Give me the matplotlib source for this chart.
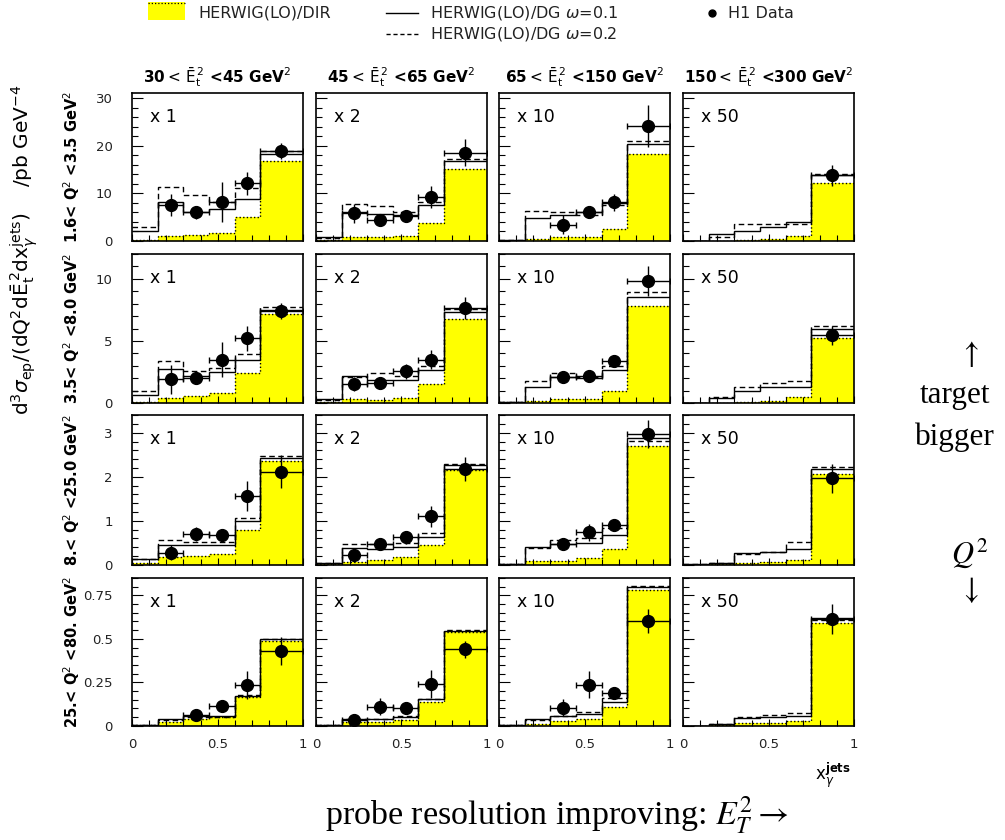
import numpy as np
import matplotlib
matplotlib.use("Agg")
import matplotlib.pyplot as plt
from matplotlib.lines import Line2D
from matplotlib.patches import Rectangle
from matplotlib.ticker import MultipleLocator

nan = np.nan
edges = [0.0, 0.15, 0.3, 0.45, 0.6, 0.75, 1.0]
xcent = [0.075, 0.225, 0.375, 0.525, 0.675, 0.875]
xhalf = [0.075, 0.075, 0.075, 0.075, 0.075, 0.125]

col_titles = [r"30$<\,\bar{\mathrm{E}}_{\mathrm{t}}^{\,2}$ <45 GeV$^{2}$",
              r"45$<\,\bar{\mathrm{E}}_{\mathrm{t}}^{\,2}$ <65 GeV$^{2}$",
              r"65$<\,\bar{\mathrm{E}}_{\mathrm{t}}^{\,2}$ <150 GeV$^{2}$",
              r"150$<\,\bar{\mathrm{E}}_{\mathrm{t}}^{\,2}$ <300 GeV$^{2}$"]
row_labels = [r"1.6< Q$^{2}$ <3.5 GeV$^{2}$",
              r"3.5< Q$^{2}$ <8.0 GeV$^{2}$",
              r"8.< Q$^{2}$ <25.0 GeV$^{2}$",
              r"25.< Q$^{2}$ <80. GeV$^{2}$"]
scale_labels = ["x 1", "x 2", "x 10", "x 50"]

ylims = [31.2, 12.0, 3.4, 0.85]
ymajor = [10, 5, 1, 0.25]
yminor = [2, 1, 0.2, 0.05]
ytick_labels = [["0", "10", "20", "30"], ["0", "5", "10"],
                ["0", "1", "2", "3"], ["0", "0.25", "0.5", "0.75"]]

# ---- Row 1: 1.6 < Q2 < 3.5 ----
dir_r1 = [[0.2, 1.05, 1.3, 1.6, 5.1, 16.8],
          [0.15, 0.8, 0.9, 1.0, 3.7, 15.1],
          [0.1, 0.5, 0.8, 0.9, 2.45, 18.2],
          [0.0, 0.05, 0.2, 0.35, 1.1, 12.3]]
dg1_r1 = [[2.2, 8.1, 6.0, 6.7, 8.8, 18.2],
          [0.9, 6.0, 5.6, 5.5, 7.6, 16.8],
          [0.2, 4.8, 5.5, 6.1, 8.0, 20.5],
          [0.07, 1.5, 2.2, 2.9, 4.1, 13.9]]
dg2_r1 = [[2.9, 11.4, 9.6, 8.3, 11.1, 18.9],
          [0.55, 7.7, 7.4, 6.0, 8.3, 17.2],
          [0.15, 6.4, 6.1, 5.5, 7.6, 21.1],
          [0.07, 0.9, 3.5, 3.6, 3.6, 14.2]]
dat_r1 = [[nan, 7.6, 6.0, 8.3, 12.1, 18.85],
          [nan, 5.8, 4.4, 5.3, 9.2, 18.6],
          [nan, nan, 3.4, 6.0, 8.1, 24.2],
          [nan, nan, nan, nan, nan, 13.8]]
err_r1 = [[nan, 2.3, 1.3, 4.2, 2.4, 1.7],
          [nan, 2.0, 1.0, 1.0, 2.3, 2.8],
          [nan, nan, 2.0, 1.0, 1.7, 4.4],
          [nan, nan, nan, nan, nan, 2.2]]

# ---- Row 2: 3.5 < Q2 < 8.0 ----
dir_r2 = [[0.1, 0.43, 0.54, 0.78, 2.45, 7.2],
          [0.05, 0.3, 0.27, 0.4, 1.5, 6.75],
          [0.05, 0.2, 0.3, 0.3, 0.95, 7.8],
          [0.0, 0.03, 0.1, 0.15, 0.45, 5.2]]
dg1_r2 = [[0.65, 2.7, 2.2, 2.5, 3.5, 7.5],
          [0.3, 2.2, 1.85, 1.85, 2.65, 7.3],
          [0.05, 1.3, 2.1, 2.0, 2.65, 8.5],
          [0.03, 0.4, 1.0, 1.3, 1.3, 6.0]]
dg2_r2 = [[0.95, 3.35, 2.6, 2.8, 3.95, 7.75],
          [0.27, 2.1, 2.45, 2.2, 3.0, 7.6],
          [0.05, 1.8, 2.4, 2.1, 3.0, 8.9],
          [0.03, 0.5, 1.3, 1.6, 1.8, 6.2]]
dat_r2 = [[nan, 1.9, 2.0, 3.5, 5.2, 7.4],
          [nan, 1.55, 1.65, 2.55, 3.5, 7.65],
          [nan, nan, 2.1, 2.2, 3.4, 9.8],
          [nan, nan, nan, nan, nan, 5.45]]
err_r2 = [[nan, 1.2, 0.35, 1.4, 1.0, 0.65],
          [nan, 0.55, 0.3, 0.6, 0.75, 0.9],
          [nan, nan, 0.25, 0.3, 0.5, 1.2],
          [nan, nan, nan, nan, nan, 0.75]]

# ---- Row 3: 8 < Q2 < 25 ----
dir_r3 = [[0.03, 0.18, 0.2, 0.24, 0.79, 2.35],
          [0.02, 0.07, 0.1, 0.17, 0.44, 2.16],
          [0.01, 0.08, 0.09, 0.16, 0.35, 2.7],
          [0.0, 0.005, 0.03, 0.06, 0.11, 2.07]]
dg1_r3 = [[0.12, 0.45, 0.45, 0.45, 1.0, 2.43],
          [0.05, 0.37, 0.35, 0.4, 0.64, 2.28],
          [0.02, 0.41, 0.46, 0.49, 0.68, 2.89],
          [0.01, 0.05, 0.26, 0.29, 0.35, 2.18]]
dg2_r3 = [[0.14, 0.56, 0.51, 0.52, 1.06, 2.47],
          [0.05, 0.46, 0.47, 0.5, 0.73, 2.29],
          [0.02, 0.37, 0.56, 0.6, 0.83, 2.81],
          [0.01, 0.04, 0.24, 0.3, 0.51, 2.22]]
dat_r3 = [[nan, 0.27, 0.7, 0.67, 1.57, 2.12],
          [nan, 0.21, 0.46, 0.62, 1.1, 2.18],
          [nan, nan, 0.47, 0.74, 0.91, 2.98],
          [nan, nan, nan, nan, nan, 1.97]]
err_r3 = [[nan, 0.17, 0.15, 0.15, 0.34, 0.38],
          [nan, 0.15, 0.06, 0.15, 0.24, 0.28],
          [nan, nan, 0.06, 0.19, 0.11, 0.32],
          [nan, nan, nan, nan, nan, 0.33]]

# ---- Row 4: 25 < Q2 < 80 ----
dir_r4 = [[0.004, 0.023, 0.038, 0.052, 0.163, 0.49],
          [0.003, 0.019, 0.023, 0.033, 0.138, 0.54],
          [0.002, 0.01, 0.029, 0.036, 0.109, 0.78],
          [0.0, 0.004, 0.017, 0.017, 0.029, 0.59]]
dg1_r4 = [[0.004, 0.036, 0.057, 0.055, 0.17, 0.497],
          [0.003, 0.036, 0.038, 0.052, 0.151, 0.545],
          [0.002, 0.04, 0.057, 0.065, 0.134, 0.798],
          [0.001, 0.01, 0.046, 0.052, 0.055, 0.62]]
dg2_r4 = [[0.006, 0.033, 0.05, 0.052, 0.174, 0.5],
          [0.003, 0.04, 0.04, 0.055, 0.155, 0.55],
          [0.002, 0.034, 0.055, 0.08, 0.159, 0.805],
          [0.001, 0.01, 0.05, 0.059, 0.071, 0.61]]
dat_r4 = [[nan, nan, 0.061, 0.111, 0.233, 0.43],
          [nan, 0.033, 0.109, 0.103, 0.239, 0.44],
          [nan, nan, 0.103, 0.237, 0.191, 0.603],
          [nan, nan, nan, nan, nan, 0.614]]
err_r4 = [[nan, nan, 0.03, 0.015, 0.08, 0.083],
          [nan, 0.015, 0.05, 0.02, 0.08, 0.05],
          [nan, nan, 0.048, 0.08, 0.03, 0.068],
          [nan, nan, nan, nan, nan, 0.088]]

DIRS = [dir_r1, dir_r2, dir_r3, dir_r4]
DG1S = [dg1_r1, dg1_r2, dg1_r3, dg1_r4]
DG2S = [dg2_r1, dg2_r2, dg2_r3, dg2_r4]
DATS = [dat_r1, dat_r2, dat_r3, dat_r4]
ERRS = [err_r1, err_r2, err_r3, err_r4]

# ------------------------------------------------------------------
W, H = 1005, 840
fig = plt.figure(figsize=(W / 100, H / 100), dpi=100)
SANS = "DejaVu Sans"
TXT = "#222222"

col_left = [132.3, 316.0, 499.3, 683.3]
col_w = 170.5
row_top = [92.7, 254.0, 415.3, 578.0]
row_bot = [241.0, 403.0, 564.7, 725.7]

axes = [[None] * 4 for _ in range(4)]
for r in range(4):
    for c in range(4):
        l = col_left[c] / W
        b = 1 - row_bot[r] / H
        h = (row_bot[r] - row_top[r]) / H
        ax = fig.add_axes([l, b, col_w / W, h])
        axes[r][c] = ax
        d = DIRS[r][c]
        ax.stairs(d, edges, fill=True, color="#ffff00", lw=0, zorder=1)
        ax.stairs(d, edges, baseline=None, color="k", ls=(0, (1, 1.6)), lw=1.0, zorder=2)
        ax.stairs(DG1S[r][c], edges, baseline=None, color="k", lw=1.0, zorder=3)
        ax.stairs(DG2S[r][c], edges, baseline=None, color="k", lw=1.0,
                  ls=(0, (4, 2.5)), zorder=3)
        y = np.array(DATS[r][c], dtype=float)
        e = np.array(ERRS[r][c], dtype=float)
        m = ~np.isnan(y)
        xc = np.array(xcent)[m]
        xh = np.array(xhalf)[m]
        ax.errorbar(xc, y[m], xerr=xh, fmt="none", ecolor="k", elinewidth=1.0,
                    capsize=2.5, capthick=1.0, zorder=4)
        ax.errorbar(xc, y[m], yerr=e[m], fmt="o", color="k", ms=8.5,
                    elinewidth=1.0, capsize=0, zorder=5)
        ax.set_xlim(0, 1)
        ax.set_ylim(0, ylims[r])
        ax.xaxis.set_major_locator(MultipleLocator(0.5))
        ax.xaxis.set_minor_locator(MultipleLocator(0.1))
        ax.yaxis.set_major_locator(MultipleLocator(ymajor[r]))
        ax.yaxis.set_minor_locator(MultipleLocator(yminor[r]))
        ax.tick_params(which="both", direction="in", top=False, right=False,
                       width=0.8, colors="k", labelcolor=TXT, labelsize=9.5)
        ax.tick_params(axis="y", which="major", length=8)
        ax.tick_params(axis="y", which="minor", length=4)
        ax.tick_params(axis="x", which="major", length=5)
        ax.tick_params(axis="x", which="minor", length=4)
        for s in ax.spines.values():
            s.set_linewidth(1.2)
        if c == 0:
            ax.set_yticks([float(t) for t in ytick_labels[r]])
            ax.set_yticklabels(ytick_labels[r], fontfamily=SANS)
            ax.tick_params(axis="y", pad=14)
        else:
            ax.set_yticklabels([])
        if r == 3:
            ax.set_xticks([0, 0.5, 1])
            ax.set_xticklabels(["0", "0.5", "1"], fontfamily=SANS)
            ax.tick_params(axis="x", pad=9)
        else:
            ax.set_xticklabels([])
        ax.text(18 / col_w, 1 - 24 / (row_bot[r] - row_top[r]), scale_labels[c],
                transform=ax.transAxes, fontsize=12.5, fontfamily=SANS,
                color="k", va="center", ha="left")

# overlay axes in pixel coordinates for annotations
ov = fig.add_axes([0, 0, 1, 1], zorder=-1)
ov.set_xlim(0, W)
ov.set_ylim(H, 0)
ov.axis("off")

# legend
ov.add_patch(Rectangle((148, 2), 37, 18, facecolor="#ffff00", edgecolor="none"))
ov.plot([148, 185], [2.5, 2.5], color="k", ls=(0, (1, 1.6)), lw=0.9)
ov.text(198, 13, "HERWIG(LO)/DIR", fontsize=11.5, fontfamily=SANS, color=TXT,
        va="center", ha="left")
ov.add_line(Line2D([386, 418], [13, 13], color="k", lw=1.0))
ov.add_line(Line2D([386, 418], [34, 34], color="k", lw=1.0, ls=(0, (3, 2))))
ov.text(430, 13, r"HERWIG(LO)/DG $\omega$=0.1", fontsize=11.5, fontfamily=SANS,
        color=TXT, va="center", ha="left", math_fontfamily="dejavusans")
ov.text(430, 34, r"HERWIG(LO)/DG $\omega$=0.2", fontsize=11.5, fontfamily=SANS,
        color=TXT, va="center", ha="left", math_fontfamily="dejavusans")
ov.plot([712], [13], "o", color="k", ms=5)
ov.text(728, 13, "H1 Data", fontsize=11.5, fontfamily=SANS, color=TXT,
        va="center", ha="left")

# column titles
for c in range(4):
    ov.text(col_left[c] + col_w / 2, 77, col_titles[c], fontsize=11,
            fontfamily=SANS, fontweight="bold", color="k", ha="center",
            va="center", math_fontfamily="dejavusans")

# row labels
for r in range(4):
    ov.text(72, (row_top[r] + row_bot[r]) / 2, row_labels[r], fontsize=10.5,
            fontfamily=SANS, fontweight="bold", rotation=90, color="k",
            ha="center", va="center", math_fontfamily="dejavusans")

# y-axis label
ov.text(24, 250,
        r"d$^{3}\sigma_{\mathrm{ep}}$/(dQ$^{2}$d$\bar{\mathrm{E}}_{\mathrm{t}}^{\,2}$dx$_{\gamma}^{\mathrm{jets}}$)    /pb GeV$^{-4}$",
        fontsize=14.5, fontfamily=SANS, rotation=90, color="k", ha="center",
        va="center", math_fontfamily="dejavusans")

# x-axis label
ov.text(833, 775, r"x$_{\gamma}^{\mathbf{jets}}$", fontsize=12, fontfamily=SANS,
        color="k", ha="center", va="center", math_fontfamily="dejavusans")

# serif annotations
SERIF = "Liberation Serif"
ov.text(557, 815, r"probe resolution improving: $E_T^2 \rightarrow$", fontsize=24.5,
        fontfamily=SERIF, color="k", ha="center", va="center",
        math_fontfamily="stix")
ov.text(969, 354, r"$\uparrow$", fontsize=22, fontfamily=SERIF, ha="center",
        va="center", math_fontfamily="stix")
ov.text(955, 395, "target", fontsize=22.5, fontfamily=SERIF, ha="center", va="center")
ov.text(955, 437, "bigger", fontsize=22.5, fontfamily=SERIF, ha="center", va="center")
ov.text(970, 553, r"$Q^2$", fontsize=22, fontfamily=SERIF, ha="center",
        va="center", math_fontfamily="stix")
ov.text(969, 590, r"$\downarrow$", fontsize=22, fontfamily=SERIF, ha="center",
        va="center", math_fontfamily="stix")

fig.savefig("out.png", dpi=100)
